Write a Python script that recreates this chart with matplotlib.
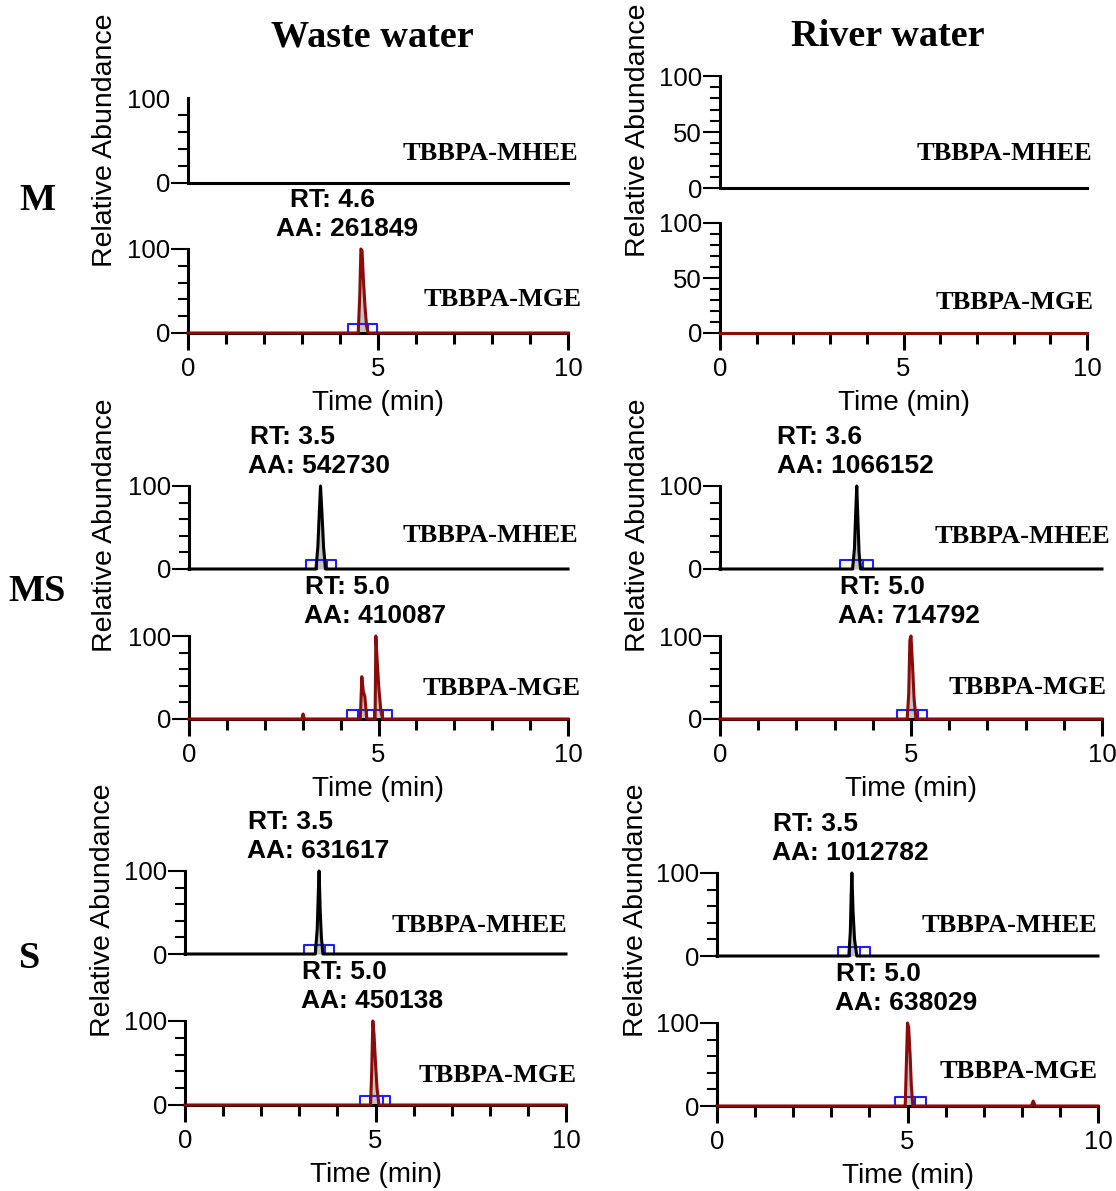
import matplotlib
matplotlib.use("Agg")
import matplotlib.pyplot as plt
from matplotlib.ticker import FixedLocator, MultipleLocator

plt.rcParams['font.family'] = ['Liberation Sans', 'DejaVu Sans']
SERIF = ['Liberation Serif', 'DejaVu Serif']

W, H, DPI = 1116, 1191, 100

# ---- traces: time (min) and relative abundance (%)
# waste water, M
ww_m_mhee_t = [0, 10]
ww_m_mhee_y = [0, 0]
ww_m_mge_t = [0, 4.48, 4.52, 4.55, 4.58, 4.62, 4.66, 4.70, 4.74, 10]
ww_m_mge_y = [0, 0, 45, 100, 98, 60, 30, 8, 0, 0]
# river water, M
rw_m_mhee_t = [0, 10]
rw_m_mhee_y = [0, 0]
rw_m_mge_t = [0, 10]
rw_m_mge_y = [0, 0]
# waste water, MS
ww_ms_mhee_t = [0, 3.35, 3.40, 3.44, 3.47, 3.51, 3.55, 3.60, 10]
ww_ms_mhee_y = [0, 0, 27, 70, 100, 66, 27, 0, 0]
ww_ms_mge_t = [0, 2.98, 3.01, 3.04, 4.52, 4.56, 4.60, 4.64, 4.69,
               4.91, 4.93, 4.97, 5.01, 5.06, 5.11, 10]
ww_ms_mge_y = [0, 0, 6, 0, 0, 51, 33, 27, 0, 0, 100, 67, 37, 11, 0, 0]
# river water, MS
rw_ms_mhee_t = [0, 3.47, 3.52, 3.55, 3.58, 3.61, 3.64, 3.68, 10]
rw_ms_mhee_y = [0, 0, 25, 65, 100, 60, 20, 0, 0]
rw_ms_mge_t = [0, 4.90, 4.94, 4.97, 5.00, 5.04, 5.08, 5.13, 10]
rw_ms_mge_y = [0, 0, 30, 95, 100, 65, 25, 0, 0]
# waste water, S
ww_s_mhee_t = [0, 3.42, 3.47, 3.50, 3.52, 3.55, 3.58, 3.62, 10]
ww_s_mhee_y = [0, 0, 30, 75, 100, 50, 20, 0, 0]
ww_s_mge_t = [0, 4.87, 4.90, 4.93, 4.96, 5.00, 5.04, 5.09, 10]
ww_s_mge_y = [0, 0, 40, 100, 85, 50, 20, 0, 0]
# river water, S
rw_s_mhee_t = [0, 3.46, 3.50, 3.52, 3.54, 3.57, 3.61, 3.67, 10]
rw_s_mhee_y = [0, 0, 30, 70, 100, 55, 20, 0, 0]
rw_s_mge_t = [0, 4.94, 4.97, 5.00, 5.03, 5.07, 5.10, 5.14, 8.25, 8.30, 8.35, 10]
rw_s_mge_y = [0, 0, 50, 100, 95, 60, 25, 0, 0, 6, 0, 0]

# integration markers (box edges, min)
ww_m_mge_box = [4.21, 4.48, 4.74, 4.97]
ww_ms_mhee_box = [3.09, 3.37, 3.64, 3.88]
ww_ms_mge_box = [4.17, 4.45, 4.69, 4.88, 5.11, 5.36]
rw_ms_mhee_box = [3.14, 3.49, 3.74, 4.00]
rw_ms_mge_box = [4.63, 4.90, 5.18, 5.42]
ww_s_mhee_box = [3.12, 3.41, 3.67, 3.91]
ww_s_mge_box = [4.59, 4.85, 5.20, 5.38]
rw_s_mhee_box = [3.18, 3.48, 3.75, 4.02]
rw_s_mge_box = [4.67, 4.94, 5.20, 5.48]

# peak labels
ww_m_mge_rt, ww_m_mge_aa = "4.6", "261849"
ww_ms_mhee_rt, ww_ms_mhee_aa = "3.5", "542730"
ww_ms_mge_rt, ww_ms_mge_aa = "5.0", "410087"
rw_ms_mhee_rt, rw_ms_mhee_aa = "3.6", "1066152"
rw_ms_mge_rt, rw_ms_mge_aa = "5.0", "714792"
ww_s_mhee_rt, ww_s_mhee_aa = "3.5", "631617"
ww_s_mge_rt, ww_s_mge_aa = "5.0", "450138"
rw_s_mhee_rt, rw_s_mhee_aa = "3.5", "1012782"
rw_s_mge_rt, rw_s_mge_aa = "5.0", "638029"

columns = ["Waste water", "River water"]
rows = ["M", "MS", "S"]
compounds = ["TBBPA-MHEE", "TBBPA-MGE"]

BLACK = "black"
RED = "#8b0a0a"
GRAY = "#c4c4c4"
BLUE = "#1f1fff"

# cell: traces (top, bottom) + layout in pixels
# layout: x0, x10, top100, top0, bot100, bot0, ylabel_x, ylabel_y
cells = [
    dict(lay=(188, 568, 98, 183, 249, 333, 105, 140),
         top=(ww_m_mhee_t, ww_m_mhee_y, None, None, None, (10.26, 35), None),
         bot=(ww_m_mge_t, ww_m_mge_y, ww_m_mge_box, ww_m_mge_rt, ww_m_mge_aa, (10.37, 40), (2.32, 2.68)),
         big=False, no100=True),
    dict(lay=(720, 1087, 76, 188, 223, 333, 638, 130),
         top=(rw_m_mhee_t, rw_m_mhee_y, None, None, None, (10.14, 31), None),
         bot=(rw_m_mge_t, rw_m_mge_y, None, None, None, (10.17, 28), None),
         big=True, no100=False),
    dict(lay=(189, 568, 486, 569, 636, 719, 105, 525),
         top=(ww_ms_mhee_t, ww_ms_mhee_y, ww_ms_mhee_box, ww_ms_mhee_rt, ww_ms_mhee_aa, (10.26, 40), (1.56, 1.61)),
         bot=(ww_ms_mge_t, ww_ms_mge_y, ww_ms_mge_box, ww_ms_mge_rt, ww_ms_mge_aa, (10.34, 37), (3.03, 3.06)),
         big=False, no100=False),
    dict(lay=(720, 1102, 486, 569, 636, 719, 638, 525),
         top=(rw_ms_mhee_t, rw_ms_mhee_y, rw_ms_mhee_box, rw_ms_mhee_rt, rw_ms_mhee_aa, (10.21, 39), (1.49, 1.49)),
         bot=(rw_ms_mge_t, rw_ms_mge_y, rw_ms_mge_box, rw_ms_mge_rt, rw_ms_mge_aa, (10.13, 38), (3.09, 3.14)),
         big=False, no100=False),
    dict(lay=(185, 566, 871, 954, 1021, 1105, 103, 910),
         top=(ww_s_mhee_t, ww_s_mhee_y, ww_s_mhee_box, ww_s_mhee_rt, ww_s_mhee_aa, (10.03, 34), (1.63, 1.65)),
         bot=(ww_s_mge_t, ww_s_mge_y, ww_s_mge_box, ww_s_mge_rt, ww_s_mge_aa, (10.29, 35), (3.04, 3.07)),
         big=False, no100=False),
    dict(lay=(717, 1098, 873, 956, 1023, 1106, 636, 910),
         top=(rw_s_mhee_t, rw_s_mhee_y, rw_s_mhee_box, rw_s_mhee_rt, rw_s_mhee_aa, (9.97, 37), (1.45, 1.47)),
         bot=(rw_s_mge_t, rw_s_mge_y, rw_s_mge_box, rw_s_mge_rt, rw_s_mge_aa, (10.0, 41), (3.10, 3.12)),
         big=False, no100=False),
]

fig = plt.figure(figsize=(W / DPI, H / DPI), dpi=DPI)


def rect(x0, x1, ytop, ybot):
    return [x0 / W, 1 - ybot / H, (x1 - x0) / W, (ybot - ytop) / H]


def style_axis(ax, bottom, big, no100):
    ax.set_xlim(0, 10)
    ax.set_ylim(0, 100)
    ax.patch.set_visible(False)
    for s in ["top", "right"]:
        ax.spines[s].set_visible(False)
    ax.spines["left"].set_linewidth(2.2)
    if big:
        ax.yaxis.set_major_locator(FixedLocator([0, 50, 100]))
        ax.yaxis.set_minor_locator(MultipleLocator(10))
    else:
        ax.yaxis.set_major_locator(FixedLocator([0, 100]))
        ax.yaxis.set_minor_locator(MultipleLocator(20))
    ax.tick_params(axis="y", which="major", direction="out", length=12, width=1.5,
                   labelsize=18.5, pad=1)
    ax.tick_params(axis="y", which="minor", direction="out", length=7, width=1.5)
    if no100:
        ax.yaxis.get_major_ticks()[-1].tick1line.set_visible(False)
    if bottom:
        ax.spines["bottom"].set_linewidth(2.2)
        ax.xaxis.set_major_locator(FixedLocator([0, 5, 10]))
        ax.xaxis.set_minor_locator(MultipleLocator(1))
        ax.tick_params(axis="x", which="major", direction="out", length=12, width=2.2,
                       labelsize=18.5, pad=5)
        ax.tick_params(axis="x", which="minor", direction="out", length=8, width=2.2)
    else:
        ax.spines["bottom"].set_visible(False)
        ax.set_xticks([])


def draw_trace(ax, trace, color):
    t, y, box, rt, aa, name_pos, ann_x = trace
    ax.fill_between(t, y, 0, color=GRAY, lw=0, zorder=2, clip_on=False)
    ax.plot(t, y, color=color, lw=2.2, zorder=4, clip_on=False)
    if box is not None:
        h = 11
        ax.plot([box[0], box[0], box[-1], box[-1]], [0, h, h, 0],
                color=BLUE, lw=1.5, zorder=3, clip_on=False)
        for xb in box[1:-1]:
            ax.plot([xb, xb], [0, h], color=BLUE, lw=1.5, zorder=3, clip_on=False)
    if rt is not None:
        ax.annotate(f"AA: {aa}", xy=(ann_x[0], 100), xytext=(0, 14.5),
                    textcoords="offset points", ha="left", va="center",
                    fontsize=19, fontweight="bold", annotation_clip=False)
        ax.annotate(f"RT: {rt}", xy=(ann_x[1], 100), xytext=(0, 35.5),
                    textcoords="offset points", ha="left", va="center",
                    fontsize=19, fontweight="bold", annotation_clip=False)


for c in cells:
    x0, x10, t100, t0, b100, b0, ylx, yly = c["lay"]
    ax_top = fig.add_axes(rect(x0, x10, t100, t0))
    ax_bot = fig.add_axes(rect(x0, x10, b100, b0))
    style_axis(ax_top, False, c["big"], c["no100"])
    style_axis(ax_bot, True, c["big"], False)
    draw_trace(ax_top, c["top"], BLACK)
    draw_trace(ax_bot, c["bot"], RED)
    for ax, tr, name in [(ax_top, c["top"], compounds[0]), (ax_bot, c["bot"], compounds[1])]:
        nx, ny = tr[5]
        ax.text(nx, ny, name, ha="right", va="center", fontsize=19,
                fontweight="bold", family=SERIF, clip_on=False)
    fig.text(((x0 + x10) / 2) / W, 1 - (b0 + 70) / H, "Time (min)",
             ha="center", va="center", fontsize=20)
    fig.text(ylx / W, 1 - yly / H, "Relative Abundance", rotation=90,
             ha="center", va="center", fontsize=20.5)

# column titles and row labels
for name, xc in zip(columns, [372, 888]):
    fig.text(xc / W, 1 - 37 / H, name, ha="center", va="center",
             fontsize=27.5, fontweight="bold", family=SERIF)
for name, (xc, yc) in zip(rows, [(37, 200), (37, 592), (30, 958)]):
    fig.text(xc / W, 1 - yc / H, name, ha="center", va="center",
             fontsize=27.5, fontweight="bold", family=SERIF)

fig.savefig("out.png", dpi=DPI)
